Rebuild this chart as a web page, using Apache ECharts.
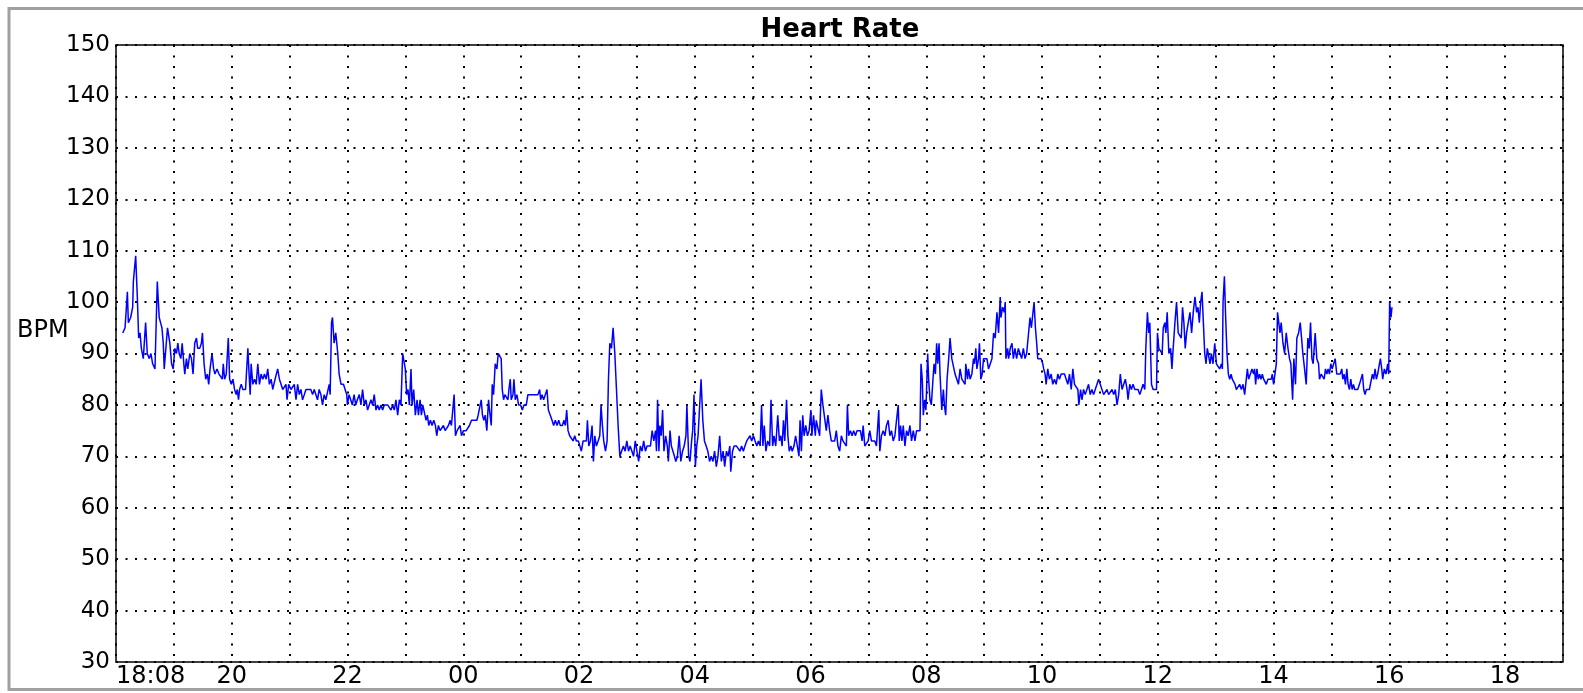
<!DOCTYPE html>
<html><head><meta charset="utf-8">
<script src="https://cdn.jsdelivr.net/npm/echarts@6/dist/echarts.min.js"></script>
<style>html,body{margin:0;padding:0;background:#fff}#c{width:1583px;height:693px}</style>
</head><body><div id="c"></div><script>
// time axis: minutes after 18:00 (axis spans 18:00 -> 19:00 next day)
const axisStartHour = 18;
const axisMinutes = [0, 1500];
const xTickLabels = ['18:08','20','22','00','02','04','06','08','10','12','14','16','18'];
const yRange = [30, 150];
const titleText = 'Heart Rate';
const yName = 'BPM';

// evening 18:08 - 22:10
const minA=[7.0,9.4,11.8,12.8,15.2,17.3,18.0,20.4,22.1,23.5,24.9,26.3,28.3,30.7,32.4,34.5,36.2,38.0,40.4,42.8,44.8,46.2,47.6,49.0,50.0,51.4,53.4,55.8,57.6,59.3,61.0,62.7,64.1,65.5,67.2,68.6,70.3,71.3,73.0,74.4,76.5,78.2,79.9,81.6,83.4,84.7,86.8,88.5,89.6,91.3,93.0,94.7,96.1,97.5,99.5,101.2,102.6,104.7,106.8,108.5,110.2,111.2,112.6,114.3,116.4,117.8,119.5,121.2,122.9,124.6,125.7,127.0,128.1,129.8,131.5,134.3,136.7,137.7,139.1,140.1,141.8,143.6,145.3,147.0,148.7,150.4,152.2,153.9,155.6,157.3,159.0,160.8,162.5,164.9,167.6,169.4,171.1,172.8,174.5,176.2,177.3,179.0,181.4,183.1,184.8,186.6,188.3,190.0,191.7,193.4,195.2,196.9,199.6,202.0,203.8,205.5,207.2,208.9,210.6,212.4,214.1,215.8,217.5,219.2,221.0,222.0,223.4,224.4,226.1,227.8,229.9,231.3,233.3,235.8,237.5,239.2,239.9,241.6,243.3,245.0,246.8,248.5,250.2];
const bpmA=[94,95,102,96,97,99,104,109,101,93,94,91,89,96,90,89,90,88,87,104,97,96,95,92,87,87,95,92,88,87,91,90,92,90,89,92,88,86,89,87,90,89,86,92,93,91,91,92,94,88,85,86,84,87,90,87,86,87,86,86,85,88,85,86,93,85,84,85,83,82,83,81,83,84,83,83,91,87,82,88,84,85,84,88,84,86,85,86,85,87,84,85,83,85,87,85,84,83,83,84,81,84,83,83,84,81,84,82,83,81,82,83,83,83,82,83,83,81,83,82,80,82,81,81,84,82,96,97,92,94,90,86,84,84,83,82,80,82,81,80,82,80,81];
// night 22:12 - 02:42
const minB=[252.2,253.9,255.6,257.4,259.1,260.8,262.5,264.3,266.0,267.7,269.5,271.2,272.9,274.7,276.4,278.1,279.9,281.6,283.3,285.1,286.8,288.5,290.2,292.0,293.7,295.4,297.2,298.9,299.9,301.3,302.7,304.1,305.8,306.9,308.6,310.3,312.1,313.5,315.2,316.6,318.0,319.7,321.4,322.8,324.2,325.9,327.6,329.4,331.1,332.5,334.2,336.0,337.7,339.4,341.2,342.9,344.6,346.4,347.7,349.1,350.5,351.9,353.6,355.4,356.7,358.1,360.2,363.0,366.4,368.5,371.3,374.1,375.4,376.8,378.6,379.9,381.3,382.7,384.4,386.2,387.2,389.0,390.0,391.4,393.1,394.9,396.2,397.6,399.3,400.4,401.8,403.1,404.5,406.3,407.3,408.7,409.7,411.5,412.5,413.9,415.6,417.3,419.4,421.2,422.9,425.3,427.0,428.8,430.5,432.2,434.0,435.7,437.4,439.2,440.2,441.6,443.3,445.0,446.8,448.2,450.2,452.0,453.7,455.4,457.2,458.9,460.6,462.7,464.4,465.8,467.2,468.6,470.3,472.1,473.8,475.5,477.2,479.3,480.7,482.4,484.2,485.9,487.6,488.7,490.1,491.8,493.5,494.9,496.3,498.0,499.8,501.5,502.8,504.2,505.6,507.4,509.1,510.5,511.9,513.6,515.3,517.1,518.8,520.5,522.3];
const bpmB=[82,80,83,80,81,79,80,81,80,82,79,80,79,80,79,80,80,80,80,79,80,79,81,78,81,80,90,90,87,82,83,80,87,80,83,78,81,78,81,78,80,80,77,78,76,77,76,77,76,74,76,75,75,76,75,75,76,77,76,76,82,74,75,75,76,74,75,75,76,77,77,77,78,78,81,78,77,78,75,81,79,76,84,82,88,87,90,90,89,83,81,82,82,81,83,85,81,82,85,81,82,80,80,79,80,80,82,82,82,82,82,82,82,83,81,82,81,82,83,79,78,77,76,77,76,77,76,76,77,76,79,75,74,74,73,74,73,73,73,71,73,73,73,77,72,73,76,69,74,72,73,74,80,76,73,71,73,85,92,91,95,90,83,76,70];
// early morning 02:44 - 06:00
const minC=[524.3,526.0,527.8,529.5,531.3,533.0,534.8,536.5,538.3,540.0,541.8,543.5,545.3,547.0,548.8,550.5,552.3,554.0,555.8,557.5,559.3,560.3,561.4,562.8,563.8,565.2,566.6,568.0,569.8,571.5,572.6,574.3,575.7,577.5,578.9,580.3,582.0,583.8,585.5,587.3,589.0,590.8,591.8,593.6,595.0,596.7,597.8,599.2,600.6,602.0,603.4,604.8,606.5,608.3,610.0,611.8,613.5,615.3,617.0,618.8,620.5,622.3,624.0,625.8,627.5,629.3,631.0,632.8,634.5,636.3,637.3,639.1,640.8,643.3,645.0,646.8,648.5,650.3,652.0,653.8,655.5,657.3,659.0,660.8,662.5,664.3,666.0,667.8,669.2,670.6,672.0,673.7,675.5,677.6,679.0,680.7,682.1,683.9,686.0,687.7,689.1,690.5,691.9,693.3,695.1,696.5,697.9,699.6,701.0,702.8,704.5,706.3,708.0,709.1,710.5,711.9,713.3,715.0,716.8,718.5,720.3];
const bpmC=[70,72,71,73,71,72,71,70,73,71,69,72,71,73,71,72,72,72,75,73,75,71,81,71,76,74,79,71,74,72,69,75,72,72,70,69,70,74,69,71,72,74,80,70,69,73,75,82,68,72,74,79,85,77,73,72,71,69,70,69,71,68,70,74,69,71,68,71,70,72,67,71,72,72,72,71,72,71,72,73,73,74,73,74,73,72,73,72,80,72,76,71,73,72,81,72,74,72,78,73,74,72,77,73,81,74,71,72,71,72,74,72,70,77,71,78,74,76,74,75,79];
// morning 06:01 - 09:17
const minD=[721.4,723.1,724.9,725.9,727.6,729.4,731.1,732.8,734.6,736.3,738.0,739.8,741.5,743.2,745.0,746.7,748.4,750.2,751.9,753.6,755.4,757.1,758.2,759.5,761.3,763.0,764.7,766.5,768.2,769.9,771.7,773.4,774.5,776.2,777.9,779.7,781.4,783.1,784.9,786.6,788.3,790.7,791.8,793.5,795.3,797.0,798.7,800.5,802.2,803.9,805.7,807.4,809.1,810.9,811.9,813.3,814.7,816.1,817.8,819.5,821.3,823.0,824.7,826.5,828.2,829.9,831.7,833.4,834.5,835.8,836.9,838.3,839.6,841.4,842.4,843.8,845.2,846.9,848.0,849.4,850.7,851.8,853.2,854.2,856.0,857.7,858.7,860.1,861.5,863.2,864.6,866.4,868.1,869.8,871.5,873.3,875.0,876.8,878.5,880.2,880.9,882.7,883.7,885.4,887.2,888.9,889.9,891.3,892.4,894.1,895.1,896.5,897.9,899.3,901.0,902.8,904.5,906.2,908.0,909.7,911.4,913.2,914.9,916.6];
const bpmD=[74,78,74,77,77,74,83,80,80,75,78,75,73,73,73,75,72,71,74,73,73,72,80,74,75,74,75,74,75,75,75,73,76,72,72,73,75,73,73,73,72,79,71,74,75,74,76,77,74,75,73,74,77,80,73,76,73,76,72,75,74,76,73,75,73,75,75,75,88,85,78,81,79,90,85,81,80,85,88,86,92,88,92,86,79,83,80,78,85,89,93,89,89,86,86,84,87,85,85,84,88,85,87,85,86,89,88,91,87,89,92,85,86,89,89,89,87,87,89,94,93,98,94,101];
// late morning 09:17 - 12:54
const minE=[917.3,919.1,920.8,921.8,922.5,924.3,925.3,927.0,928.8,930.2,931.9,933.6,935.4,937.1,938.8,940.6,942.3,944.0,945.8,947.5,948.9,950.3,951.7,953.1,954.4,955.5,957.2,959.0,960.7,961.7,963.1,964.2,965.9,967.6,969.4,971.1,972.8,974.6,976.3,978.0,979.8,981.5,983.2,985.0,986.7,988.4,990.2,991.9,993.6,995.4,997.1,998.1,999.9,1001.3,1003.0,1004.7,1006.5,1008.2,1009.9,1011.7,1013.4,1015.1,1016.9,1018.6,1020.3,1022.1,1023.8,1025.5,1027.3,1029.0,1030.7,1032.5,1034.2,1035.9,1037.7,1039.4,1041.1,1042.9,1044.6,1046.3,1048.1,1049.1,1050.9,1052.6,1054.3,1056.1,1057.8,1059.5,1061.3,1063.0,1064.7,1066.5,1067.5,1069.2,1070.6,1071.7,1073.4,1075.1,1076.9,1078.6,1079.6,1081.0,1082.8,1084.5,1085.6,1087.3,1088.3,1089.7,1091.4,1093.2,1094.6,1095.9,1097.7,1099.4,1101.1,1102.9,1104.3,1105.6,1107.0,1108.4,1109.8,1111.5,1113.3,1115.0,1116.7,1118.5,1120.2,1121.6,1123.0,1124.4,1125.8,1127.2,1128.6,1130.0,1131.3,1132.7,1134.1];
const bpmE=[97,99,98,100,89,91,89,91,92,89,91,89,91,90,89,91,89,90,90,97,95,95,100,95,92,89,89,89,88,87,86,84,87,85,86,84,85,84,86,85,86,86,86,85,84,86,83,87,84,84,83,80,83,81,83,82,82,84,82,83,82,83,83,85,84,84,82,82,83,82,82,83,82,83,80,82,86,83,84,85,83,81,84,83,84,83,83,83,82,83,84,83,91,98,94,96,84,83,83,83,94,91,91,90,95,96,94,98,90,91,87,91,96,100,94,94,93,99,96,91,94,94,98,94,98,101,98,99,96,100,102,96,90,88,91,91,88];
// afternoon 12:55 - 16:03
const minF=[1135.5,1137.2,1139.0,1140.7,1142.4,1144.1,1145.9,1146.9,1147.6,1149.0,1150.3,1151.7,1153.1,1154.5,1155.9,1157.2,1158.6,1160.0,1161.4,1163.1,1164.8,1166.6,1168.3,1170.0,1171.7,1172.8,1174.1,1175.9,1177.6,1179.3,1180.3,1181.4,1182.7,1184.1,1185.5,1186.9,1188.3,1189.7,1191.0,1192.4,1194.1,1195.9,1197.6,1198.6,1200.0,1201.4,1202.8,1204.1,1205.5,1206.6,1207.9,1209.7,1211.4,1213.1,1214.9,1216.5,1217.9,1219.7,1221.0,1222.7,1224.1,1225.9,1227.6,1229.0,1230.3,1232.1,1233.8,1235.5,1236.9,1238.3,1239.7,1241.0,1243.1,1244.8,1246.6,1247.6,1249.3,1251.0,1252.4,1253.8,1255.2,1256.5,1257.9,1259.3,1260.7,1262.1,1263.8,1265.5,1267.2,1269.0,1270.7,1271.7,1273.1,1274.5,1275.9,1277.2,1278.6,1280.0,1281.4,1282.8,1284.1,1285.5,1287.2,1289.0,1290.7,1292.1,1293.4,1294.8,1296.2,1297.6,1299.3,1301.0,1302.4,1303.8,1305.2,1306.5,1307.9,1309.7,1310.7,1312.1,1313.1,1314.8,1316.5,1318.3,1319.3,1320.3,1321.7,1322.7];
const bpmF=[90,88,92,88,88,87,88,87,100,105,97,90,86,85,86,85,85,84,83,83,84,83,84,82,82,87,85,86,87,86,87,84,87,85,86,85,86,85,85,84,85,85,85,86,84,84,88,98,98,94,96,92,90,94,91,89,88,81,89,84,93,94,96,93,90,87,84,93,91,96,89,88,94,89,88,85,86,86,85,87,86,87,86,88,87,87,89,86,86,86,87,85,86,84,87,84,83,85,83,84,83,83,83,84,84,86,83,82,83,83,83,83,86,85,87,85,86,88,89,87,85,87,86,88,86,100,97,99];

const chunks=[[minA,bpmA],[minB,bpmB],[minC,bpmC],[minD,bpmD],[minE,bpmE],[minF,bpmF]];
const seriesData=[];
chunks.forEach(([m,b])=>{const n=Math.min(m.length,b.length);for(let i=0;i<n;i++)seriesData.push([m[i],b[i]]);});

const FONT='"DejaVu Sans", "Liberation Sans", Arial, sans-serif';
const chart=echarts.init(document.getElementById('c'),null,{renderer:'canvas'});
chart.setOption({
  animation:false,
  backgroundColor:'#ffffff',
  grid:{left:116,top:45,right:20,bottom:31,show:true,borderColor:'#000',borderWidth:1.5,backgroundColor:'#fff',containLabel:false,outerBoundsMode:'none'},
  graphic:[
    {type:'rect',z:-10,silent:true,shape:{x:9,y:8.5,width:1600,height:681},style:{fill:'none',stroke:'#a0a0a0',lineWidth:3}},
    {type:'text',silent:true,x:840,y:17,style:{text:titleText,font:'bold 26px '+FONT,fill:'#000',align:'center',verticalAlign:'top',textAlign:'center',textVerticalAlign:'top'}},
    {type:'text',silent:true,x:17,y:319,style:{text:yName,font:'24px '+FONT,fill:'#000',align:'left',verticalAlign:'top',textAlign:'left',textVerticalAlign:'top'}}
  ],
  xAxis:{type:'value',min:axisMinutes[0],max:axisMinutes[1],interval:60,
    axisLine:{show:false},axisTick:{show:false},
    axisLabel:{show:true,color:'#000',fontSize:24,fontFamily:FONT,margin:3,alignMinLabel:'left',showMinLabel:true,showMaxLabel:true,
      formatter:function(v){const k=v/120;return Number.isInteger(k)&&k<xTickLabels.length?xTickLabels[k]:'';}},
    splitLine:{show:true,lineStyle:{color:'#000',width:2,type:[2,8.5]}}},
  yAxis:{type:'value',min:yRange[0],max:yRange[1],interval:10,
    axisLine:{show:false},axisTick:{show:false},
    axisLabel:{color:'#000',fontSize:23,fontFamily:FONT,margin:6},
    splitLine:{show:true,lineStyle:{color:'#000',width:2,type:[2,7.5]}}},
  series:[{type:'line',data:seriesData,showSymbol:false,symbol:'none',smooth:false,
    lineStyle:{color:'#0000ff',width:1.5},z:5,clip:true}]
});
</script></body></html>
